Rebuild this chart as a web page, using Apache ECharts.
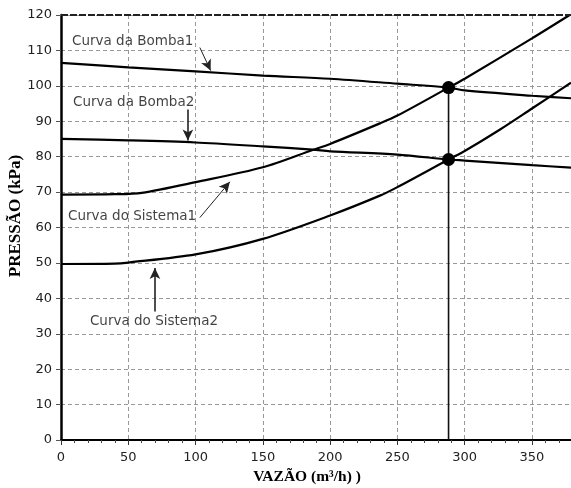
<!DOCTYPE html>
<html>
<head>
<meta charset="utf-8">
<script src="https://cdn.jsdelivr.net/npm/echarts@6/dist/echarts.min.js"></script>
<style>html,body{margin:0;padding:0;background:#fff;}#c{width:571px;height:488px;}</style>
</head>
<body>
<div id="c"></div>
<script>
// ---- data (x: vazão m3/h, y: pressão kPa) ----
const bomba1 = [[0,106.5],[50,105.2],[100,104.1],[150,102.9],[200,102.0],[250,100.6],[288,99.5],[300,98.7],[350,97.2],[379,96.5]];
const bomba2 = [[0,85.0],[50,84.6],[100,84.0],[150,82.9],[187,82.0],[200,81.5],[250,80.6],[288,79.2],[300,78.9],[350,77.6],[379,76.9]];
const sistema1 = [[0,69.3],[40,69.4],[60,69.8],[100,72.8],[150,77.0],[187,81.9],[200,83.6],[237,89.4],[250,91.6],[288,99.5],[300,102.0],[350,113.4],[378,120.0]];
const sistema2 = [[0,49.7],[40,49.8],[50,50.1],[100,52.4],[150,56.8],[200,63.4],[237,69.0],[250,71.4],[288,79.2],[300,81.6],[326,87.6],[350,93.6],[379,100.9]];
const operatingX = 288;
const pontos = [[288,99.5],[288,79.2]];
const xTicks = [0,50,100,150,200,250,300,350];
const yTicks = [0,10,20,30,40,50,60,70,80,90,100,110,120];
const labelTexts = ['Curva da Bomba1','Curva da Bomba2','Curva do Sistema1','Curva do Sistema2'];
const labelPos = [[8.2,112.4],[8.9,95.3],[5.2,63.2],[21.5,33.6]];
const arrows = [
  [[103.2,110.8],[111.2,104.3]],
  [[94.3,93.3],[94.3,84.6]],
  [[103.2,62.8],[125.5,72.9]],
  [[69.8,36.3],[69.8,48.6]]
];
const arrowWidths = [1,1.6,1,1.6];

const chart = echarts.init(document.getElementById('c'), null, {renderer:'canvas'});
const curveStyle = {color:'#000', width:2.2};
function curve(name, data){
  return {name, type:'line', data, showSymbol:false, symbol:'none', smooth:0.3,
    lineStyle:curveStyle, z:3, silent:true};
}
chart.setOption({
  animation:false,
  backgroundColor:'#fff',
  grid:{left:61, right:0, top:15, bottom:48, containLabel:false},
  xAxis:{
    type:'value', min:0, max:379, interval:50,
    axisLine:{show:true, lineStyle:{color:'#000', width:2}},
    axisTick:{show:true, length:5, lineStyle:{color:'#333'}},
    minorTick:{show:true, splitNumber:5, length:3, lineStyle:{color:'#444'}},
    axisLabel:{showMaxLabel:false, margin:11, color:'#222', fontFamily:'DejaVu Sans', fontSize:13,
      formatter: v => xTicks.includes(v) ? String(v) : ''},
    splitLine:{show:true, lineStyle:{color:'#999', type:[4,3], width:1}}
  },
  yAxis:{
    type:'value', min:0, max:120, interval:10,
    axisLine:{show:true, lineStyle:{color:'#000', width:2.5}},
    axisTick:{show:true, length:5, lineStyle:{color:'#555'}},
    axisLabel:{margin:9, color:'#222', fontFamily:'DejaVu Sans', fontSize:13,
      formatter: v => yTicks.includes(v) ? String(v) : ''},
    splitLine:{show:true, lineStyle:{color:'#999', type:[4,3], width:1}}
  },
  graphic:[
    {type:'text', style:{text:'VAZÃO (m³/h) )', font:'bold 15.5px "Liberation Serif"', fill:'#000', textAlign:'center', textVerticalAlign:'middle', x:307, y:477}},
    {type:'text', x:16, y:216, rotation:Math.PI/2, style:{text:'PRESSÃO (kPa)', font:'bold 17px "Liberation Serif"', fill:'#000', textAlign:'center', textVerticalAlign:'middle'}}
  ],
  series:[
    curve('Curva da Bomba1', bomba1),
    curve('Curva da Bomba2', bomba2),
    curve('Curva do Sistema1', sistema1),
    curve('Curva do Sistema2', sistema2),
    {
      name:'vertical', type:'line', data:[[operatingX,0],[operatingX,pontos[0][1]]],
      symbol:'none', lineStyle:{color:'#111', width:1.6}, z:2, silent:true,
      markLine:{
        silent:true, animation:false, symbol:'none', label:{show:false},
        lineStyle:{color:'#222', width:2, type:[7,2]},
        data:[{yAxis:120}]
      }
    },
    {
      name:'setas', type:'line', data:[], symbol:'none', silent:true,
      markLine:{
        silent:true, animation:false, symbol:['none','arrow'], symbolSize:[8,11], label:{show:false},
        data: arrows.map((a,i)=>[
          {coord:a[0], lineStyle:{color:'#222', width:arrowWidths[i], type:'solid'}},
          {coord:a[1]}
        ])
      }
    },
    {
      name:'pontos', type:'scatter', data:pontos, symbol:'circle', symbolSize:13,
      itemStyle:{color:'#000', opacity:1}, z:5, silent:true
    },
    {
      name:'rotulos', type:'scatter', symbolSize:0, silent:true, z:6,
      data: labelPos.map((p,i)=>({value:p, name:labelTexts[i]})),
      label:{show:true, position:'right', distance:0, formatter: p => p.name,
        fontFamily:'DejaVu Sans', fontSize:13.5, color:'#111'}
    }
  ]
});
</script>
</body>
</html>
